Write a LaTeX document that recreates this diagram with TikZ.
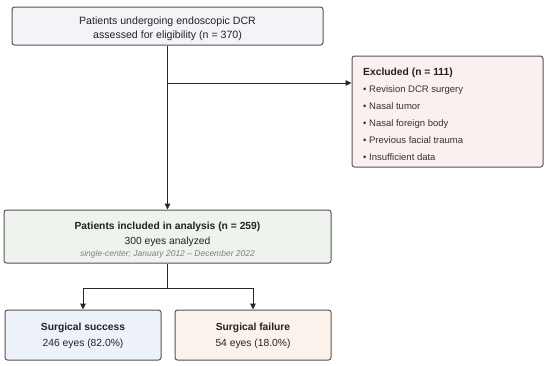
\documentclass[tikz,border=0pt]{standalone}
\usepackage{fontspec}
\setmainfont{Liberation Sans}
\usetikzlibrary{arrows.meta}
\definecolor{bordc}{HTML}{555555}
\definecolor{txtc}{HTML}{222222}
\definecolor{itemc}{HTML}{333333}
\definecolor{grayc}{HTML}{808080}
\definecolor{topfill}{HTML}{F3F4F7}
\definecolor{exfill}{HTML}{FAF0EF}
\definecolor{midfill}{HTML}{EEF3EE}
\definecolor{okfill}{HTML}{EDF1FA}
\definecolor{failfill}{HTML}{FBF2EC}
\tikzset{
  boxc/.style={draw=bordc, line width=1pt, rounded corners=2.5pt, inner sep=0pt},
  txt/.style={anchor=base, inner sep=0pt, text=txtc, font=\fontsize{10.3pt}{12pt}\selectfont},
  bold/.style={txt, font=\fontsize{10.3pt}{12pt}\selectfont\bfseries},
  item/.style={anchor=base west, inner sep=0pt, text=itemc, font=\fontsize{9.5pt}{11pt}\selectfont},
  note/.style={anchor=base, inner sep=0pt, text=grayc, font=\fontsize{8.5pt}{10pt}\selectfont\itshape},
  conn/.style={draw=black!85, line width=1pt},
  arr/.style={conn, -{Stealth[length=6pt,width=5.5pt,inset=0pt]}}
}
\begin{document}
\begin{tikzpicture}[x=1pt,y=-1pt]
\useasboundingbox (0,0) rectangle (550,365);
% boxes
\node[boxc, fill=topfill, minimum width=311pt, minimum height=38pt] (top) at (167.5,26) {};
\node[boxc, fill=exfill, minimum width=191pt, minimum height=111pt] (excl) at (447.5,111.5) {};
\node[boxc, fill=midfill, minimum width=327pt, minimum height=53pt] (mid) at (167.5,236.5) {};
\node[boxc, fill=okfill, minimum width=156pt, minimum height=50pt] (ok) at (83,335) {};
\node[boxc, fill=failfill, minimum width=156pt, minimum height=50pt] (fail) at (253,335) {};
% texts
\node[txt, font=\fontsize{10.6pt}{12pt}\selectfont] (t1) at (167.5,24.5) {Patients undergoing endoscopic DCR};
\node[txt, font=\fontsize{10.6pt}{12pt}\selectfont] (t2) at (167.5,38) {assessed for eligibility (n = 370)};
\node[bold, anchor=base west] (e0) at (363,75) {Excluded (n = 111)};
\node[item] (e1) at (363,92.5) {• Revision DCR surgery};
\node[item] (e2) at (363,109.5) {• Nasal tumor};
\node[item] (e3) at (363,126.5) {• Nasal foreign body};
\node[item] (e4) at (363,143.5) {• Previous facial trauma};
\node[item] (e5) at (363,160.5) {• Insufficient data};
\node[bold] (m1) at (167.5,229) {Patients included in analysis (n = 259)};
\node[txt] (m2) at (167.5,244.5) {300 eyes analyzed};
\node[note] (m3) at (167.5,256.5) {single-center; January 2012 – December 2022};
\node[bold] (o1) at (83,330) {Surgical success};
\node[txt] (o2) at (83,346) {246 eyes (82.0\%)};
\node[bold] (f1) at (253,330) {Surgical failure};
\node[txt] (f2) at (253,346) {54 eyes (18.0\%)};
% connectors
\coordinate (br) at (167.5,83);
\coordinate (sp) at (167.5,288);
\draw[arr] (top.south) -- (mid.north);
\draw[arr] (br) -- (br -| excl.west);
\draw[conn] (mid.south) -- (sp);
\draw[arr] (sp) -| (ok.north);
\draw[arr] (sp) -| (fail.north);
\end{tikzpicture}
\end{document}
